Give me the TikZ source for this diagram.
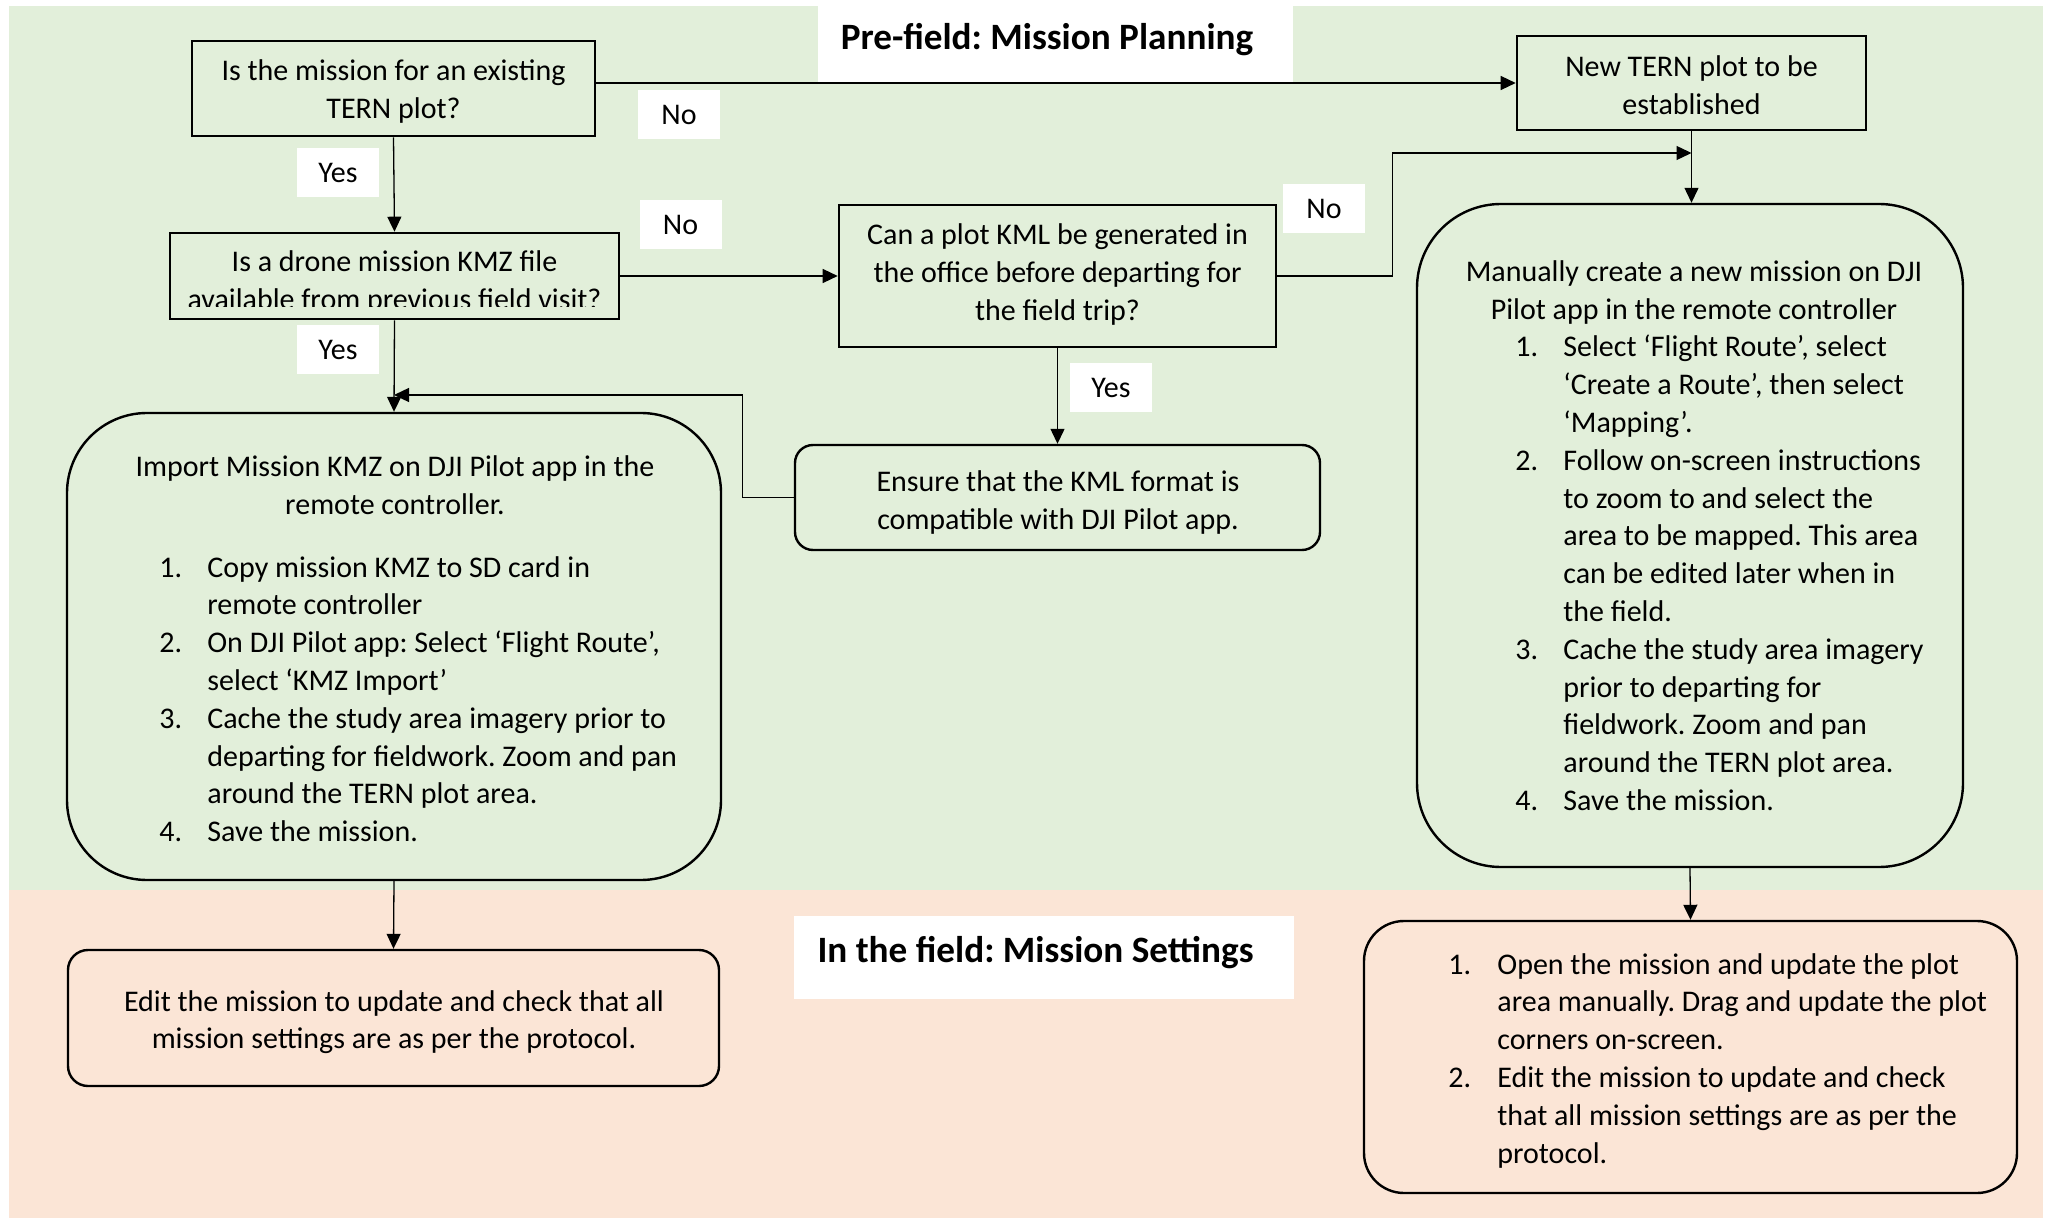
\documentclass[tikz,border=0pt]{standalone}
\usepackage{fontspec}
\setmainfont{Carlito}
\usetikzlibrary{arrows.meta}
\definecolor{gbg}{HTML}{E2EFDA}
\definecolor{pbg}{HTML}{FBE5D6}
\newcommand\bodyfont{\fontsize{15}{18.9}\selectfont}
\newcommand\ttlfont{\fontsize{18.6}{22}\selectfont\bfseries}
\frenchspacing
\begin{document}
\begin{tikzpicture}[x=0.5pt,y=-0.5pt,
  sqbox/.style={draw, line width=1.3pt, inner sep=0pt},
  rbox/.style={draw, line width=1.2pt, inner sep=0pt, rounded corners=#1},
  txt/.style={inner sep=0pt, font=\bodyfont},
  lbl/.style={fill=white, inner sep=0pt, minimum width=41pt, minimum height=24.5pt, font=\bodyfont},
  wbox/.style={fill=white, inner sep=0pt},
  ttl/.style={inner sep=0pt, font=\ttlfont},
  arr/.style={line width=0.65pt, -{Triangle[length=7.5pt,width=7pt]}},
  ln/.style={line width=0.65pt}]
\useasboundingbox (0,0) rectangle (2051,1219);
% backgrounds
\fill[gbg] (9,6) rectangle (2043,890);
\fill[pbg] (9,890) rectangle (2043,1218);
% title boxes
\node[wbox, minimum width=237.5pt, minimum height=38.5pt] (T1box) at (1055.5,44.5) {};
\node[ttl, anchor=base] (T1) at (1047,50) {Pre-field: Mission Planning};
\node[wbox, minimum width=250pt, minimum height=41.5pt] (T2box) at (1044,957.5) {};
\node[ttl, anchor=base] (T2) at (1035.5,962) {In the field: Mission Settings};
% boxes
\node[sqbox, minimum width=201.5pt, minimum height=47.5pt] (A) at (393.5,88.5) {};
\node[txt, anchor=base] (At) at (393.5,81) {\begin{tabular}[t]{@{}c@{}}Is the mission for an existing\\TERN plot?\end{tabular}};
\node[sqbox, minimum width=174.5pt, minimum height=47pt] (N) at (1691.5,83) {};
\node[txt, anchor=base] (Nt) at (1691.5,77) {\begin{tabular}[t]{@{}c@{}}New TERN plot to be\\established\end{tabular}};
\node[sqbox, minimum width=224.5pt, minimum height=43pt] (B) at (394.5,276) {};
\begin{scope}
\clip (172,235) rectangle (617,307);
\node[txt, anchor=base] (Bt) at (394.5,272) {\begin{tabular}[t]{@{}c@{}}Is a drone mission KMZ file\\available from previous field visit?\end{tabular}};
\end{scope}
\node[sqbox, minimum width=218.5pt, minimum height=71pt] (C) at (1057.5,276) {};
\node[txt, anchor=base] (Ct) at (1057.5,245) {\begin{tabular}[t]{@{}c@{}}Can a plot KML be generated in\\the office before departing for\\the field trip?\end{tabular}};
\node[rbox=42pt, minimum width=273pt, minimum height=331.5pt] (D) at (1690,535.5) {};
\node[txt, anchor=base] (Dh) at (1694,282) {\begin{tabular}[t]{@{}c@{}}Manually create a new mission on DJI\\Pilot app in the remote controller\end{tabular}};
\node[txt, anchor=base west] (Di) at (1515,357) {\begin{tabular}[t]{@{}p{24pt}@{}l@{}}
1.&Select ‘Flight Route’, select\\
&‘Create a Route’, then select\\
&‘Mapping’.\\
2.&Follow on-screen instructions\\
&to zoom to and select the\\
&area to be mapped. This area\\
&can be edited later when in\\
&the field.\\
3.&Cache the study area imagery\\
&prior to departing for\\
&fieldwork. Zoom and pan\\
&around the TERN plot area.\\
4.&Save the mission.
\end{tabular}};
\node[rbox=40pt, minimum width=327pt, minimum height=233.5pt] (E) at (394,646.5) {};
\node[txt, anchor=base] (Eh) at (395,477) {\begin{tabular}[t]{@{}c@{}}Import Mission KMZ on DJI Pilot app in the\\remote controller.\end{tabular}};
\node[txt, anchor=base west] (Ei) at (159,577) {\begin{tabular}[t]{@{}p{24pt}@{}l@{}}
1.&Copy mission KMZ to SD card in\\
&remote controller\\
2.&On DJI Pilot app: Select ‘Flight Route’,\\
&select ‘KMZ Import’\\
3.&Cache the study area imagery prior to\\
&departing for fieldwork. Zoom and pan\\
&around the TERN plot area.\\
4.&Save the mission.
\end{tabular}};
\node[rbox=9pt, minimum width=262.5pt, minimum height=52.5pt] (F) at (1057.5,497.5) {};
\node[txt, anchor=base] (Ft) at (1058,492) {\begin{tabular}[t]{@{}c@{}}Ensure that the KML format is\\compatible with DJI Pilot app.\end{tabular}};
\node[rbox=10pt, minimum width=325.5pt, minimum height=68pt] (G) at (393.5,1018) {};
\node[txt, anchor=base] (Gt) at (394,1011) {\begin{tabular}[t]{@{}c@{}}Edit the mission to update and check that all\\mission settings are as per the protocol.\end{tabular}};
\node[rbox=20pt, minimum width=326.5pt, minimum height=136pt] (H) at (1690.5,1057) {};
\node[txt, anchor=base west] (Hi) at (1448,974) {\begin{tabular}[t]{@{}p{24.5pt}@{}l@{}}
1.&Open the mission and update the plot\\
&area manually. Drag and update the plot\\
&corners on-screen.\\
2.&Edit the mission to update and check\\
&that all mission settings are as per the\\
&protocol.
\end{tabular}};
% connectors
\coordinate (j1) at (1691.5,153);
\coordinate (j2) at (394,395);
\draw[arr] (N.west -| A.east) -- (N.west);
\draw[arr] (A.south) -- (B.north);
\draw[arr] (B.east) -- (C.west);
\draw[arr] (C.east) -- ++(115,0) |- (j1);
\draw[arr] (N.south) -- (N.south |- D.north);
\draw[arr] (B.south) -- (E.north);
\draw[arr] (C.south) -- (F.north);
\draw[arr] (F.west) -- ++(-51,0) |- (j2);
\draw[arr] (E.south) -- (G.north);
\draw[arr] (D.south) -- (H.north);
% labels
\node[lbl] (no1) at (679,115) {No};
\node[lbl] (yes1) at (338,173) {Yes};
\node[lbl] (no2) at (680.5,225) {No};
\node[lbl] (no3) at (1324,209) {No};
\node[lbl] (yes2) at (338,350) {Yes};
\node[lbl] (yes3) at (1111,387.5) {Yes};
\end{tikzpicture}
\end{document}
